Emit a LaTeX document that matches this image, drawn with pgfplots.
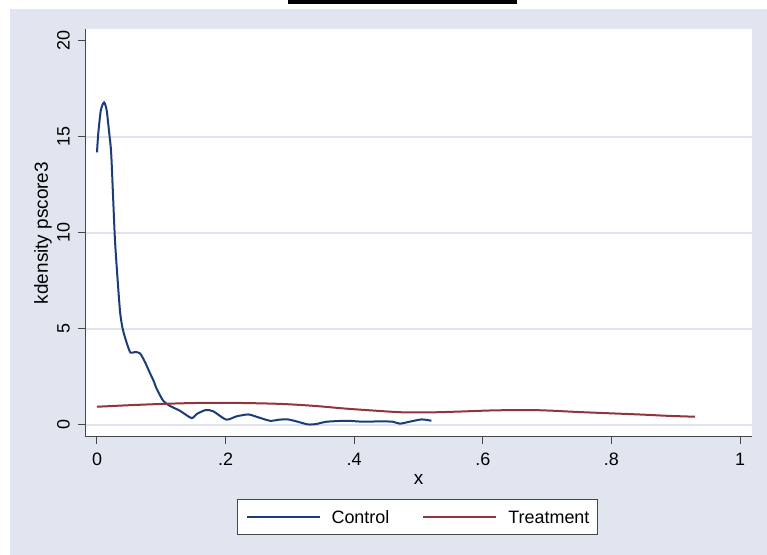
\documentclass[border=0pt]{standalone}
\usepackage{fontspec}
\setmainfont{Liberation Sans}
\usepackage{pgfplots}
\pgfplotsset{compat=1.18}
\definecolor{bgblue}{RGB}{224,229,240}
\definecolor{gridc}{RGB}{221,228,240}
\definecolor{stnavy}{RGB}{28,60,120}
\definecolor{stmaroon}{RGB}{144,53,59}
\definecolor{axgray}{RGB}{70,70,70}
\begin{document}
\begin{tikzpicture}[x=1bp,y=1bp]
\useasboundingbox (0,0) rectangle (767,555);
\fill[white] (0,0) rectangle (767,555);
\fill[bgblue] (10,0) rectangle (767,546);
\fill[black] (288,551) rectangle (517,555);
\begin{axis}[
  at={(85bp,118bp)}, anchor=south west,
  scale only axis, width=667bp, height=408bp,
  xmin=-0.01866, xmax=1.01866, ymin=-0.625, ymax=20.625,
  axis x line*=bottom, axis y line*=left,
  axis line style={axgray, line width=1bp},
  axis background/.style={fill=white},
  xtick={0,0.2,0.4,0.6,0.8,1}, xticklabels={0,.2,.4,.6,.8,1},
  ytick={0,5,10,15}, extra y ticks={20}, extra y tick style={grid=none},
  ymajorgrids, grid style={gridc, line width=1.3bp},
  tick align=outside, major tick length=7bp,
  tick style={axgray, line width=1bp},
  minor tick num=0,
  /pgf/number format/assume math mode=true,
  ticklabel style={font=\fontsize{18}{18}\selectfont, inner sep=0pt},
  xticklabel style={anchor=north, yshift=-9bp},
  yticklabel style={rotate=90, anchor=south, yshift=8bp},
  xlabel={x}, ylabel={kdensity pscore3},
  every axis x label/.style={at={(axis description cs:0.5,-0.103)}, anchor=center, font=\fontsize{19}{19}\selectfont},
  every axis y label/.style={at={(axis description cs:-0.063,0.5)}, rotate=90, anchor=center, font=\fontsize{19}{19}\selectfont},
  legend columns=2,
  legend image code/.code={\draw[#1] (0bp,0bp) -- (73bp,0bp);},
  legend style={at={(axis description cs:0.4985,-0.1949)}, anchor=center,
    draw=axgray, line width=0.8bp, fill=white, inner xsep=8bp, inner ysep=11bp,
    font=\fontsize{18}{18}\selectfont,
    nodes={inner sep=0pt, text height=13bp, text depth=0bp},
    /tikz/every odd column/.style={column sep=11bp},
    /tikz/every even column/.style={column sep=33bp}},
]
\addplot[stnavy, line width=2bp, smooth, tension=0.4] coordinates {
(0,14.2) (0.002,15.2) (0.006,16.4) (0.011,16.8) (0.015,16.4) (0.019,15.2)
(0.022,14.2) (0.025,11.9) (0.028,9.6) (0.032,7.6) (0.036,5.85) (0.040,5.0)
(0.046,4.3) (0.052,3.77) (0.059,3.8) (0.067,3.73) (0.075,3.25) (0.082,2.73)
(0.088,2.3) (0.093,1.87) (0.103,1.26) (0.113,1.0) (0.129,0.74) (0.147,0.36)
(0.155,0.57) (0.169,0.78) (0.181,0.71) (0.201,0.28) (0.217,0.45) (0.235,0.55)
(0.248,0.43) (0.269,0.22) (0.284,0.28) (0.297,0.29) (0.310,0.19) (0.328,0.03)
(0.341,0.05) (0.357,0.17) (0.388,0.22) (0.414,0.17) (0.440,0.19) (0.460,0.17)
(0.471,0.07) (0.486,0.17) (0.505,0.29) (0.520,0.22)
};
\addlegendentry{Control}
\addplot[stmaroon, line width=2bp, smooth] coordinates {
(0,0.95) (0.05,1.03) (0.103,1.1) (0.16,1.15) (0.217,1.15) (0.284,1.1)
(0.336,1.0) (0.388,0.85) (0.44,0.73) (0.476,0.66) (0.522,0.66) (0.564,0.7)
(0.616,0.76) (0.668,0.78) (0.704,0.75) (0.746,0.68) (0.797,0.61) (0.849,0.54)
(0.886,0.48) (0.930,0.43)
};
\addlegendentry{Treatment}
\end{axis}
\end{tikzpicture}
\end{document}
